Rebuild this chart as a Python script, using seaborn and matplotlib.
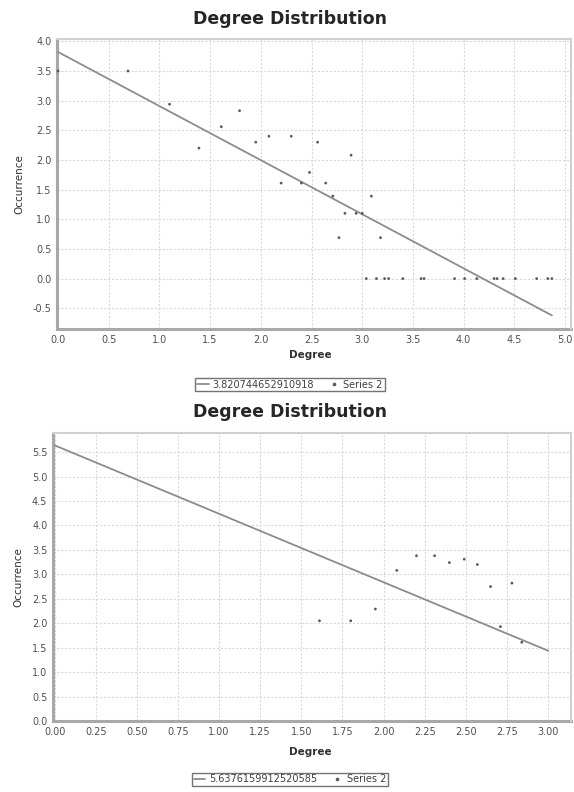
import numpy as np
import pandas as pd
import seaborn as sns
import matplotlib.pyplot as plt
from matplotlib.lines import Line2D

# top chart: log degree vs log occurrence
degree_top = [0.00, 0.69, 1.10, 1.39, 1.61, 1.79, 1.95, 2.08, 2.20, 2.30, 2.40, 2.48,
              2.56, 2.64, 2.71, 2.77, 2.83, 2.89, 2.94, 3.00, 3.09, 3.18,
              3.04, 3.14, 3.22, 3.26, 3.40, 3.58, 3.61, 3.91, 4.01, 4.13,
              4.30, 4.33, 4.39, 4.51, 4.72, 4.83, 4.87]
occur_top = [3.50, 3.50, 2.94, 2.20, 2.56, 2.83, 2.30, 2.40, 1.61, 2.40, 1.61, 1.79,
             2.30, 1.61, 1.39, 0.69, 1.10, 2.08, 1.10, 1.10, 1.39, 0.69,
             0.0, 0.0, 0.0, 0.0, 0.0, 0.0, 0.0, 0.0, 0.0, 0.0,
             0.0, 0.0, 0.0, 0.0, 0.0, 0.0, 0.0]
fit_top_label = "3.820744652910918"
fit_top_intercept = 3.820744652910918
fit_top_slope = -0.912

# bottom chart
degree_bot = [1.61, 1.80, 1.95, 2.08, 2.20, 2.31, 2.40, 2.49, 2.57, 2.65, 2.71, 2.78, 2.84]
occur_bot = [2.05, 2.05, 2.29, 3.08, 3.38, 3.38, 3.24, 3.31, 3.20, 2.75, 1.93, 2.82, 1.61]
fit_bot_label = "5.6376159912520585"
fit_bot_intercept = 5.6376159912520585
fit_bot_slope = -1.40

sns.set_style("whitegrid")
plt.rcParams["font.family"] = ["DejaVu Sans"]

fig = plt.figure(figsize=(5.74, 7.92), dpi=100)
ax_top = fig.add_axes([0.0993, 0.5846, 0.8957, 0.3662])
ax_bot = fig.add_axes([0.0923, 0.0896, 0.9027, 0.3637])

GRAY_TXT = "#505050"


def draw_panel(ax, xs, ys, intercept, slope, fit_label, x_end, xlim, ylim, xticks, yticks, xfmt,
               legend_y, title_y, label_y):
    data = pd.DataFrame({"Degree": xs, "Occurrence": ys})
    fit_x = np.array([0.0, x_end])
    fit = pd.DataFrame({"Degree": fit_x, "Occurrence": intercept + slope * fit_x})

    sns.lineplot(data=fit, x="Degree", y="Occurrence", color="#8c8c8c", linewidth=1.3, ax=ax)
    sns.scatterplot(data=data, x="Degree", y="Occurrence", color="#5a5a5a", s=4,
                    marker="o", edgecolor="none", ax=ax, zorder=5, clip_on=False)

    ax.set_xlim(*xlim)
    ax.set_ylim(*ylim)
    ax.set_xticks(xticks)
    ax.set_yticks(yticks)
    ax.set_xticklabels([xfmt.format(v) for v in xticks])
    ax.set_yticklabels(["{:.1f}".format(v) for v in yticks])
    ax.tick_params(labelsize=7, colors=GRAY_TXT, length=2, pad=2)
    ax.grid(True, color="#d8d8d8", linestyle=(0, (2, 1.5)), linewidth=0.8)
    ax.set_facecolor("white")
    for side in ["top", "right"]:
        ax.spines[side].set_color("#d0d0d0")
        ax.spines[side].set_linewidth(1.5)
    for side in ["left", "bottom"]:
        ax.spines[side].set_color("#a8a8a8")
        ax.spines[side].set_linewidth(2.2)
        ax.spines[side].set_zorder(1)

    ax.set_xlabel("")
    ax.set_ylabel("Occurrence", fontsize=7.5, color="#303030", labelpad=6)
    fig.text(0.54, label_y, "Degree", fontsize=7.5, color="#303030", fontweight="bold", ha="center", va="center")
    fig.text(0.505, title_y, "Degree Distribution", fontsize=12.5, fontweight="bold", ha="center", va="center")

    handles = [Line2D([], [], color="#8c8c8c", linewidth=1.3),
               Line2D([], [], color="#5a5a5a", marker="o", markersize=1.6, linestyle="none")]
    leg = fig.legend(handles, [fit_label, "Series 2"], loc="center",
                     bbox_to_anchor=(0.505, legend_y), ncol=2, fontsize=7, frameon=True,
                     fancybox=False, handlelength=1.2, handletextpad=0.4, columnspacing=1.4,
                     borderpad=0.2, labelcolor="#404040")
    leg.get_frame().set_edgecolor("#505050")
    leg.get_frame().set_linewidth(1.0)


draw_panel(ax_top, degree_top, occur_top, fit_top_intercept, fit_top_slope, fit_top_label, max(degree_top),
           (-0.01, 5.06), (-0.85, 4.04), [0, 0.5, 1.0, 1.5, 2.0, 2.5, 3.0, 3.5, 4.0, 4.5, 5.0],
           [-0.5, 0.0, 0.5, 1.0, 1.5, 2.0, 2.5, 3.0, 3.5, 4.0], "{:.1f}",
           legend_y=1 - 384.5 / 792, title_y=1 - 19 / 792, label_y=1 - 355 / 792)

draw_panel(ax_bot, degree_bot, occur_bot, fit_bot_intercept, fit_bot_slope, fit_bot_label, 3.0,
           (-0.01, 3.14), (0, 5.89), [0, 0.25, 0.5, 0.75, 1.0, 1.25, 1.5, 1.75, 2.0, 2.25, 2.5, 2.75, 3.0],
           [0, 0.5, 1.0, 1.5, 2.0, 2.5, 3.0, 3.5, 4.0, 4.5, 5.0, 5.5], "{:.2f}",
           legend_y=1 - 779.5 / 792, title_y=1 - 412 / 792, label_y=1 - 752 / 792)

fig.savefig("out.png", dpi=100, facecolor="white")
